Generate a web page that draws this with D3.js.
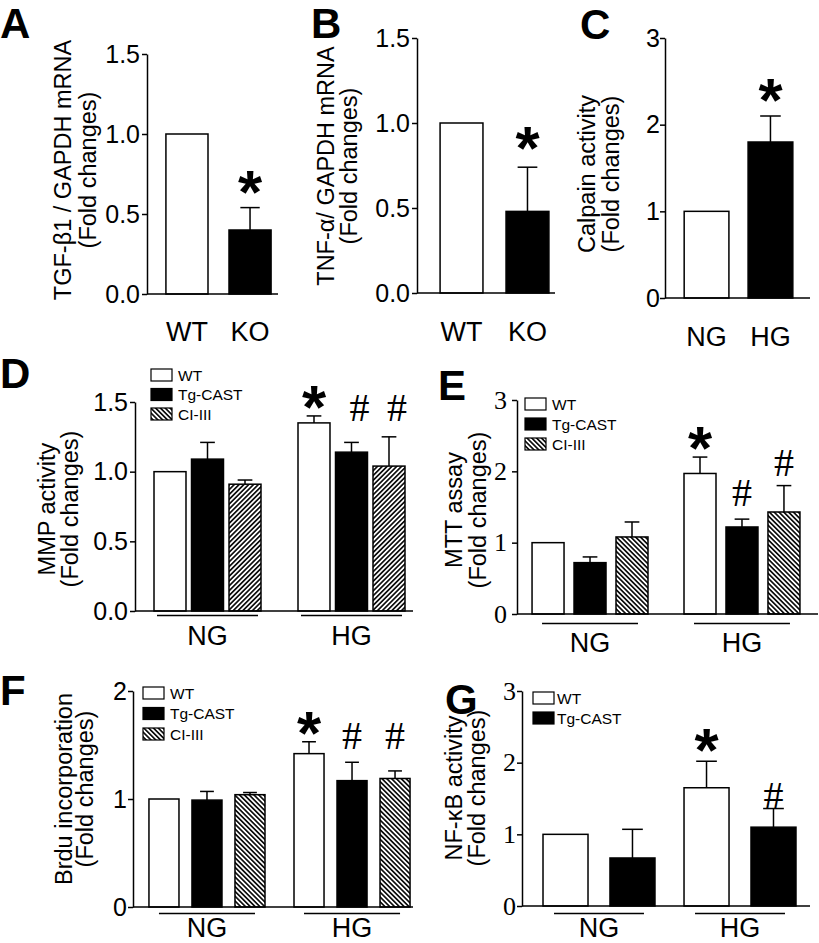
<!DOCTYPE html>
<html><head><meta charset="utf-8">
<script src="https://cdn.jsdelivr.net/npm/d3@7"></script>
<style>body{margin:0;background:#fff}</style>
</head><body>
<script>
// ================= DATA =================
const abCategories = ["WT", "KO"];
const aValues = [1.00, 0.40];
const aErrors = [0, 0.14];
const bValues = [1.00, 0.48];
const bErrors = [0, 0.26];
const cCategories = ["NG", "HG"];
const cValues = [1.00, 1.80];
const cErrors = [0, 0.30];

const groups = ["NG", "HG"];
const series3 = ["WT", "Tg-CAST", "CI-III"];
const series2 = ["WT", "Tg-CAST"];

const dValuesNG = [1.00, 1.09, 0.91], dErrorsNG = [0, 0.12, 0.03];
const dValuesHG = [1.35, 1.14, 1.04], dErrorsHG = [0.05, 0.07, 0.21];
const eValuesNG = [1.00, 0.72, 1.08], eErrorsNG = [0, 0.08, 0.21];
const eValuesHG = [1.97, 1.22, 1.43], eErrorsHG = [0.23, 0.11, 0.37];
const fValuesNG = [1.00, 0.99, 1.04], fErrorsNG = [0, 0.08, 0.02];
const fValuesHG = [1.42, 1.17, 1.19], fErrorsHG = [0.11, 0.17, 0.07];
const gValuesNG = [1.00, 0.67], gErrorsNG = [0, 0.40];
const gValuesHG = [1.65, 1.10], gErrorsHG = [0.37, 0.26];

const ticks15 = [0, 0.5, 1.0, 1.5];
const ticks3 = [0, 1, 2, 3];
const ticks2 = [0, 1, 2];

// significance marks: value-level where mark is centered
const aMarks = [{group: "KO", series: "v", mark: "*", at: 0.73}];
const bMarks = [{group: "KO", series: "v", mark: "*", at: 0.94}];
const cMarks = [{group: "HG", series: "v", mark: "*", at: 2.46}];
const dMarks = [{group: "HG", series: "WT", mark: "*", at: 1.57}, {group: "HG", series: "Tg-CAST", mark: "#", at: 1.46}, {group: "HG", series: "CI-III", mark: "#", at: 1.46}];
const eMarks = [{group: "HG", series: "WT", mark: "*", at: 2.54}, {group: "HG", series: "Tg-CAST", mark: "#", at: 1.70}, {group: "HG", series: "CI-III", mark: "#", at: 2.12}];
const fMarks = [{group: "HG", series: "WT", mark: "*", at: 1.75}, {group: "HG", series: "Tg-CAST", mark: "#", at: 1.59}, {group: "HG", series: "CI-III", mark: "#", at: 1.59}];
const gMarks = [{group: "HG", series: "WT", mark: "*", at: 2.38}, {group: "HG", series: "Tg-CAST", mark: "#", at: 1.55}];

// ================= DRAWING =================
const SANS = "'Liberation Sans', Arial, Helvetica, sans-serif";
const SERIF = "'Liberation Serif', 'Times New Roman', serif";
const svg = d3.select("body").append("svg").attr("width", 819).attr("height", 943)
  .style("background", "#fff");
svg.append("rect").attr("width", 819).attr("height", 943).attr("fill", "#fff");
const defs = svg.append("defs");
function hatch(id, angle) {
  const s = 3.4;
  const p = defs.append("pattern").attr("id", id).attr("patternUnits", "userSpaceOnUse")
    .attr("width", s).attr("height", s).attr("patternTransform", `rotate(${angle})`);
  p.append("rect").attr("width", s).attr("height", s).attr("fill", "#fff");
  p.append("line").attr("x1", s / 2).attr("x2", s / 2).attr("y1", 0).attr("y2", s)
    .attr("stroke", "#000").attr("stroke-width", 1.6);
}
hatch("hatchF", 45);   // "/"
hatch("hatchB", -45);  // "\"

function buildBars(gs, ss, valsByGroup, errsByGroup) {
  const out = [];
  gs.forEach((g, gi) => ss.forEach((s, si) => out.push({group: g, series: s, value: valsByGroup[gi][si], err: errsByGroup[gi][si]})));
  return out;
}
function buildSimple(cats, vals, errs) {
  return cats.map((c, i) => ({group: c, series: "v", value: vals[i], err: errs[i]}));
}

function panel(cfg) {
  const g = svg.append("g");
  const y = d3.scaleLinear().domain([0, cfg.max]).range([cfg.y0, cfg.yTop]);
  const xo = d3.scaleBand().domain(cfg.groups).range(cfg.xr).paddingInner(cfg.pi).paddingOuter(cfg.po);
  const xi = d3.scaleBand().domain(cfg.series).range([0, xo.bandwidth()]).paddingInner(cfg.pii || 0);
  const bw = xi.bandwidth();
  const bx = d => xo(d.group) + xi(d.series);

  // bars
  g.selectAll("rect.bar").data(cfg.bars).join("rect").attr("class", "bar")
    .attr("x", bx).attr("width", bw)
    .attr("y", d => y(d.value)).attr("height", d => y(0) - y(d.value))
    .attr("fill", cfg.fill).attr("stroke", "#000").attr("stroke-width", 1.5);

  // error bars (upper)
  const eb = cfg.bars.filter(d => d.err > 0);
  const cap = bw * 0.46;
  g.selectAll("line.ev").data(eb).join("line")
    .attr("x1", d => bx(d) + bw / 2).attr("x2", d => bx(d) + bw / 2)
    .attr("y1", d => y(d.value)).attr("y2", d => y(d.value + d.err))
    .attr("stroke", "#000").attr("stroke-width", 1.5);
  g.selectAll("line.ec").data(eb).join("line")
    .attr("x1", d => bx(d) + bw / 2 - cap / 2).attr("x2", d => bx(d) + bw / 2 + cap / 2)
    .attr("y1", d => y(d.value + d.err)).attr("y2", d => y(d.value + d.err))
    .attr("stroke", "#000").attr("stroke-width", 1.5);

  // marks
  g.selectAll("text.mark").data(cfg.marks).join("text")
    .attr("x", d => xo(d.group) + xi(d.series) + bw / 2 + (d.mark === "#" ? (cfg.hashDx || 0) : 0))
    .attr("y", d => d.mark === "*" ? y(d.at) + 0.58 * 62 : y(d.at) + 0.34 * 40)
    .attr("text-anchor", "middle")
    .attr("font-family", d => d.mark === "*" ? SANS : SERIF)
    .attr("font-weight", d => d.mark === "*" ? "bold" : "normal")
    .attr("font-size", d => d.mark === "*" ? 62 : 40)
    .text(d => d.mark);

  // y axis
  const ax = g.append("g").attr("transform", `translate(${cfg.xr[0]},0)`)
    .call(d3.axisLeft(y).tickValues(cfg.ticks).tickFormat(d3.format(cfg.fmt))
      .tickSize(5).tickSizeOuter(0).tickPadding(cfg.tp));
  ax.select(".domain").attr("stroke", "#000").attr("stroke-width", 1.5);
  ax.selectAll(".tick line").attr("stroke", "#000").attr("stroke-width", 1.5);
  ax.selectAll(".tick text").attr("font-family", cfg.serif ? SERIF : SANS)
    .attr("font-size", cfg.serif ? 26 : 25).attr("fill", "#000");

  // baseline
  g.append("line").attr("x1", cfg.xr[0]).attr("x2", cfg.baseEnd).attr("y1", y(0)).attr("y2", y(0))
    .attr("stroke", "#000").attr("stroke-width", 1.5);

  // category / group labels
  if (cfg.groupLine) {
    g.selectAll("line.gl").data(cfg.groups).join("line")
      .attr("x1", d => xo(d) + cfg.inset).attr("x2", d => xo(d) + xo.bandwidth() - cfg.inset)
      .attr("y1", Math.round(y(0) + cfg.glOff) + 0.5).attr("y2", Math.round(y(0) + cfg.glOff) + 0.5)
      .attr("stroke", "#000").attr("stroke-width", 1.5);
  }
  g.selectAll("text.cat").data(cfg.groups).join("text")
    .attr("x", d => xo(d) + xo.bandwidth() / 2).attr("y", y(0) + cfg.labOff)
    .attr("text-anchor", "middle").attr("font-family", SANS).attr("font-size", 27).text(d => d);

  // y label
  cfg.ylab.forEach((t, i) => {
    g.append("text").attr("transform", `translate(${cfg.ylx[i]},${cfg.yly}) rotate(-90)`)
      .attr("text-anchor", "middle").attr("font-family", SANS).attr("font-size", 23.5).text(t);
  });

  // legend
  if (cfg.legend) {
    const L = cfg.legend;
    const lg = g.append("g");
    cfg.series.forEach((s, i) => {
      const ty = L.y + i * L.dy;
      lg.append("rect").attr("x", L.x).attr("y", ty).attr("width", 21).attr("height", 12)
        .attr("fill", legendFill(s)).attr("stroke", "#000").attr("stroke-width", 1.2);
      lg.append("text").attr("x", L.x + 21 + L.gap).attr("y", ty + 11.5)
        .attr("font-family", SANS).attr("font-size", 15.5).text(s);
    });
  }

  // panel letter
  g.append("text").attr("x", cfg.letter[0]).attr("y", cfg.letter[1]).attr("font-family", SANS)
    .attr("font-weight", "bold").attr("font-size", 42).text(cfg.letter[2]);
}

const seriesFill = (hatchId) => d => d.series === "WT" ? "#fff" : d.series === "Tg-CAST" ? "#000" : `url(#${hatchId})`;
const legendFill = s => s === "WT" ? "#fff" : s === "Tg-CAST" ? "#000" : "url(#hatchB)";
const catFill = d => (d.group === "WT" || d.group === "NG") ? "#fff" : "#000";

// Panel A
panel({groups: abCategories, series: ["v"], bars: buildSimple(abCategories, aValues, aErrors), marks: aMarks,
  xr: [147, 290], pi: 0.333, po: 0.3, y0: 294, yTop: 54, max: 1.5, ticks: ticks15, fmt: ".1f", tp: 2,
  baseEnd: 278, fill: catFill, labOff: 47, ylab: ["TGF-β1 / GAPDH mRNA", "(Fold changes)"], ylx: [71, 96], yly: 170,
  letter: [0, 38, "A"]});
// Panel B
panel({groups: abCategories, series: ["v"], bars: buildSimple(abCategories, bValues, bErrors), marks: bMarks,
  xr: [417, 572], pi: 0.35, po: 0.35, y0: 293, yTop: 38, max: 1.5, ticks: ticks15, fmt: ".1f", tp: 2,
  baseEnd: 555, fill: catFill, labOff: 48, ylab: ["TNF-α/ GAPDH mRNA", "(Fold changes)"], ylx: [334, 357], yly: 166,
  letter: [311, 38, "B"]});
// Panel C
panel({groups: cCategories, series: ["v"], bars: buildSimple(cCategories, cValues, cErrors), marks: cMarks,
  xr: [665, 812], pi: 0.3, po: 0.3, y0: 298, yTop: 38, max: 3, ticks: ticks3, fmt: "d", tp: 0,
  baseEnd: 810, fill: catFill, labOff: 48, ylab: ["Calpain activity", "(Fold changes)"], ylx: [595, 619], yly: 174,
  letter: [580, 39, "C"]});
// Panel D
panel({groups: groups, series: series3, pii: 0.147, bars: buildBars(groups, series3, [dValuesNG, dValuesHG], [dErrorsNG, dErrorsHG]), marks: dMarks,
  xr: [135, 424], pi: 0.257, po: 0.132, y0: 611, yTop: 402, max: 1.5, ticks: ticks15, fmt: ".1f", tp: 2,
  baseEnd: 413, fill: seriesFill("hatchF"), groupLine: true, inset: 3, glOff: 4, labOff: 34, hashDx: 8,
  ylab: ["MMP activity", "(Fold changes)"], ylx: [55, 78], yly: 509,
  legend: {x: 151, y: 369, dy: 19.5, gap: 6}, letter: [0, 388, "D"]});
// Panel E
panel({groups: groups, series: series3, pii: 0.238, bars: buildBars(groups, series3, [eValuesNG, eValuesHG], [eErrorsNG, eErrorsHG]), marks: eMarks,
  xr: [517, 815], pi: 0.237, po: 0.099, y0: 614, yTop: 400, max: 3, ticks: ticks3, fmt: "d", tp: 5, serif: true,
  baseEnd: 818, fill: seriesFill("hatchB"), groupLine: true, inset: 10, glOff: 9, labOff: 38,
  ylab: ["MTT assay", "(Fold changes)"], ylx: [462, 486], yly: 510,
  legend: {x: 525, y: 398, dy: 20, gap: 6}, letter: [438, 400, "E"]});
// Panel F
panel({groups: groups, series: series3, pii: 0.302, bars: buildBars(groups, series3, [fValuesNG, fValuesHG], [fErrorsNG, fErrorsHG]), marks: fMarks,
  xr: [133, 426], pi: 0.2, po: 0.11, y0: 907, yTop: 691, max: 2, ticks: ticks2, fmt: "d", tp: 1,
  baseEnd: 413, fill: seriesFill("hatchB"), groupLine: true, inset: 10, glOff: 6, labOff: 30,
  ylab: ["Brdu incorporation", "(Fold changes)"], ylx: [72, 93], yly: 789,
  legend: {x: 143, y: 687, dy: 20.5, gap: 6}, letter: [0, 705, "F"]});
// Panel G
panel({groups: groups, series: series2, pii: 0.328, bars: buildBars(groups, series2, [gValuesNG, gValuesHG], [gErrorsNG, gErrorsHG]), marks: gMarks,
  xr: [522, 817], pi: 0.206, po: 0.149, y0: 906, yTop: 691, max: 3, ticks: ticks3, fmt: "d", tp: 1, serif: true,
  baseEnd: 810, fill: seriesFill("hatchB"), groupLine: true, inset: 11, glOff: 7, labOff: 31,
  ylab: ["NF-κB activity", "(Fold changes)"], ylx: [462, 485], yly: 788,
  legend: {x: 533, y: 692, dy: 20, gap: 3}, letter: [445, 714, "G"]});
</script>
</body></html>
